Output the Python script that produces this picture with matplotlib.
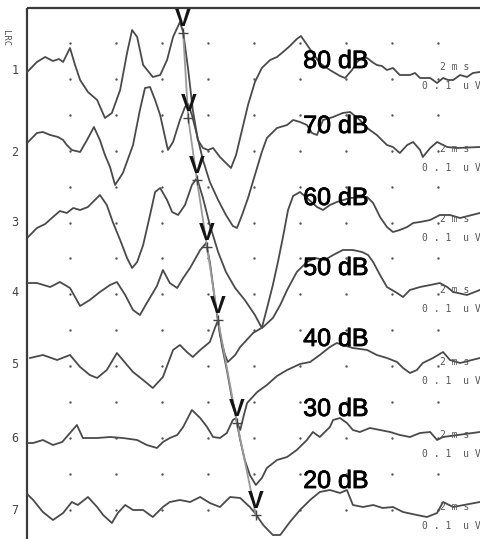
import numpy as np
import matplotlib
matplotlib.use('Agg')
import matplotlib.pyplot as plt
import matplotlib.patheffects as pe

# stimulus levels (dB) for the seven ABR traces, top to bottom
levels = [80, 70, 60, 50, 40, 30, 20]

# traces: time (ms) and amplitude (a.u., positive = up)
t1 = [0.07,0.28,0.46,0.63,0.76,0.85,1.00,1.11,1.22,1.39,1.59,1.76,1.91,2.09,2.24,2.35,2.46,2.59,2.80,2.96,
      3.11,3.24,3.39,3.46,3.57,3.67,3.78,3.89,4.00,4.11,4.26,4.39,4.50,4.61,4.74,4.87,5.02,5.17,5.35,5.50,5.63,
      5.78,5.93,6.02,6.11,6.26,6.43,6.65,6.87,6.98,7.13,7.24,7.35,7.46,7.57,7.67,7.78,7.89,8.02,8.17,8.39,
      8.50,8.61,8.83,8.98,9.11,9.22,9.33,9.48,9.63,9.76,9.91]
a1 = [-2,8,13,9,11,8,22,5,-10,-22,-30,-48,-43,-20,17,40,33,5,-7,-5,
      10,33,48,38,0,-40,-70,-78,-80,-78,-87,-93,-98,-85,-60,-35,-12,2,10,13,18,
      24,31,34,28,18,7,0,-6,-8,0,8,12,12,8,5,4,0,2,-5,-5,
      -3,-8,-8,-13,-8,-10,-10,-5,-7,-3,-2]

t2 = [0.09,0.28,0.41,0.57,0.74,0.85,0.93,1.04,1.22,1.37,1.52,1.65,1.76,1.87,1.98,2.15,2.37,2.52,2.63,2.74,
      2.85,2.96,3.07,3.13,3.24,3.39,3.50,3.57,3.65,3.76,3.89,4.04,4.22,4.39,4.54,4.63,4.74,4.87,5.02,5.17,
      5.28,5.50,5.72,5.85,6.00,6.15,6.26,6.37,6.50,6.72,6.93,7.09,7.30,7.46,7.67,7.89,8.02,8.17,8.33,8.46,
      8.61,8.67,8.83,8.98,9.20,9.41,9.91]
a2 = [10,19,20,17,15,12,7,2,0,12,25,12,-3,-15,-33,-21,7,42,64,65,
      52,37,14,2,10,32,45,48,37,17,-8,-30,-48,-63,-74,-76,-63,-46,-23,0,
      14,24,27,32,30,27,19,17,32,35,39,40,32,24,17,7,5,-1,7,10,
      2,-5,4,10,5,4,5]

t3 = [0.09,0.28,0.46,0.63,0.78,0.93,1.07,1.22,1.39,1.54,1.65,1.80,1.93,2.09,2.24,2.35,2.46,2.59,2.74,2.85,
      2.96,3.11,3.22,3.35,3.50,3.65,3.76,3.89,4.04,4.22,4.39,4.59,4.80,5.02,5.17,5.30,5.41,5.52,5.63,5.74,
      5.85,6.00,6.15,6.37,6.50,6.65,6.80,7.09,7.46,7.59,7.74,7.89,8.02,8.17,8.33,8.46,8.61,8.83,9.04,9.26,
      9.48,9.91]
a3 = [-15,-6,-2,5,11,9,14,12,15,22,27,17,0,-18,-36,-46,-40,-23,7,30,
      34,22,10,7,17,37,44,24,-3,-30,-50,-66,-78,-93,-106,-83,-63,-40,-15,12,
      26,30,24,15,12,17,20,24,25,19,5,-5,-10,-8,-5,-1,0,2,7,7,
      4,9]

t4 = [0.09,0.28,0.57,0.78,1.00,1.22,1.43,1.65,1.87,2.02,2.20,2.37,2.52,2.67,2.89,3.02,3.17,3.33,3.46,3.61,
      3.83,3.96,4.04,4.15,4.26,4.37,4.43,4.59,4.70,4.98,5.20,5.41,5.57,5.72,5.93,6.15,6.33,6.54,6.72,6.93,
      7.15,7.35,7.48,7.59,7.74,7.89,8.11,8.24,8.39,8.61,8.83,9.04,9.20,9.33,9.63,9.91]
a4 = [10,10,6,11,5,-13,-7,1,8,11,-2,-17,-22,-10,7,23,10,5,15,25,
      43,50,31,-7,-42,-62,-69,-62,-54,-40,-34,-25,-12,3,21,31,35,33,38,43,
      43,41,38,31,18,6,0,-4,3,6,8,10,6,1,-2,3]

t5 = [0.13,0.41,0.72,1.00,1.22,1.43,1.59,1.80,2.02,2.24,2.37,2.59,2.80,3.02,3.24,3.39,3.54,3.67,3.83,4.04,
      4.15,4.22,4.30,4.41,4.52,4.63,4.70,4.78,4.85,5.07,5.28,5.50,5.72,6.00,6.22,6.43,6.65,6.80,6.93,7.15,
      7.46,7.67,7.89,8.11,8.24,8.39,8.54,8.67,8.89,9.11,9.26,9.48,9.91]
a5 = [7,10,5,10,-2,-10,-13,-5,12,0,-7,-15,-23,-12,15,20,13,8,15,23,
      37,45,20,-5,-33,-57,-65,-50,-38,-27,-20,-11,-5,1,3,10,18,22,20,17,
      15,10,7,3,-3,-8,-5,2,7,13,5,2,7]

t6 = [0.09,0.20,0.41,0.63,0.83,1.00,1.15,1.28,1.59,1.87,2.15,2.46,2.67,2.89,3.02,3.17,3.33,3.46,3.65,3.83,
      3.98,4.11,4.26,4.41,4.54,4.61,4.70,4.80,4.91,5.04,5.17,5.28,5.50,5.72,5.93,6.15,6.28,6.43,6.65,6.72,
      6.87,7.02,7.15,7.30,7.52,7.74,7.96,8.17,8.39,8.61,8.83,8.98,9.11,9.91]
a6 = [-5,-5,-2,-7,-4,5,13,0,0,1,0,-2,-7,-10,-4,0,3,11,28,20,
      11,1,0,5,18,20,-2,-22,-37,-47,-40,-30,-22,-19,-12,-2,6,1,11,18,
      20,15,8,6,10,8,6,3,1,5,6,-2,1,6]

t7 = [0.09,0.20,0.41,0.63,0.85,1.04,1.17,1.39,1.59,1.72,1.91,2.04,2.20,2.37,2.59,2.80,3.02,3.17,3.39,3.61,
      3.83,4.04,4.26,4.48,4.70,4.91,5.02,5.20,5.41,5.57,5.78,6.00,6.22,6.43,6.65,6.87,7.02,7.15,7.37,7.59,
      7.80,8.02,8.24,8.54,8.76,8.98,9.11,9.33,9.91]
a7 = [15,10,-2,-10,-3,8,5,13,3,-5,-13,-3,5,0,0,-7,3,8,10,8,
      13,7,3,13,12,3,-3,-15,-25,-25,-12,0,10,18,20,17,20,5,3,5,
      2,3,-2,-5,-7,-3,8,3,8]

# wave V marks (latency ms, amplitude a.u.)
v_lat = [3.46, 3.57, 3.76, 3.98, 4.22, 4.63, 5.04]
v_amp = [37, 34, 42, 46, 45, 15, -5]

times = [t1, t2, t3, t4, t5, t6, t7]
amps = [a1, a2, a3, a4, a5, a6, a7]

# layout: baseline row of each trace, row of each dB label
rows = np.array([70, 152, 222, 293, 365, 438, 510])
db_rows = [61, 126, 198, 268, 339, 409, 481]

fig = plt.figure(figsize=(4.8, 5.39), dpi=100)
ax = fig.add_axes([0, 0, 1, 1])
ax.set_xlim(-24/46, 456/46)
ax.set_ylim(539, 0)
ax.axis('off')

# dotted grid
gx, gy = np.meshgrid(np.arange(1, 10), 43 + 35.9*np.arange(14))
ax.scatter(gx.ravel(), gy.ravel(), s=3, c='#555555', lw=0, zorder=1)

# frame
ax.vlines(0.065, 8, 539, color='#3a3a3a', lw=1.6)
ax.hlines(8, 0.065, 10, color='#3a3a3a', lw=1.6)

for t, a, r in zip(times, amps, rows):
    ax.plot(t, r - np.array(a), color='#4a4a4a', lw=1.3, zorder=2)

vy = rows - np.array(v_amp)
ax.plot(v_lat, vy, color='#9a9a9a', lw=1.3, zorder=3)
ax.plot(v_lat, vy, ls='none', marker='+', ms=7, mew=1.0, color='#444444', zorder=4)
for x, y in zip(v_lat, vy):
    ax.text(x, y - 2, 'V', ha='center', va='bottom', fontsize=17, fontweight='bold',
            family='Liberation Sans', color='#151515', zorder=5)

thick = [pe.withStroke(linewidth=0.6, foreground='black')]
for lv, y in zip(levels, db_rows):
    ax.text(6.07, y, f'{lv} dB', ha='left', va='center', fontsize=18,
            family='Liberation Sans', color='black', zorder=5, path_effects=thick)

for i, r in enumerate(rows):
    ax.text(-0.2, r, str(i + 1), ha='center', va='center', fontsize=8.5,
            family='DejaVu Sans Mono', color='#444444')
    ax.text(9.04, r - 3, '2 m s', ha='left', va='center', fontsize=7,
            family='DejaVu Sans Mono', color='#555555')
    ax.text(8.65, r + 16, '0 . 1  u V', ha='left', va='center', fontsize=7,
            family='DejaVu Sans Mono', color='#555555')

ax.text(-0.4, 38, 'LRC', rotation=-90, ha='center', va='center', fontsize=6.5,
        family='DejaVu Sans Mono', color='#555555')

fig.savefig('out.png', dpi=100)
